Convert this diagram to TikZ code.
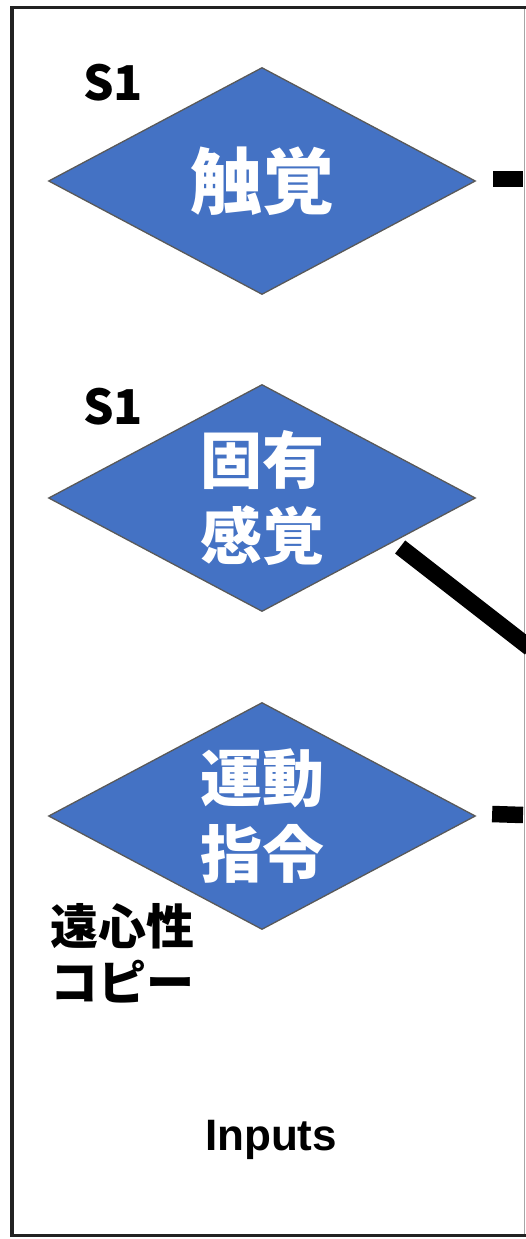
\documentclass[tikz,border=0pt]{standalone}
\usepackage{fontspec}
\setmainfont{Liberation Sans}
\newfontfamily\jp{Noto Sans CJK JP}
\usetikzlibrary{shapes.geometric,calc}
\definecolor{dblue}{HTML}{4472C4}
\definecolor{frm}{HTML}{222222}
\tikzset{
  dia/.style={diamond, aspect=1.88, minimum width=427pt, minimum height=227pt,
    inner sep=0pt, fill=dblue, draw=black!65, line width=1.3pt,
    text=white, align=center},
  bigtxt/.style={font=\jp\bfseries\fontsize{72}{76}\selectfont},
  midtxt/.style={font=\jp\bfseries\fontsize{62}{76}\selectfont},
  lbl/.style={font=\jp\bfseries\fontsize{48}{56}\selectfont, text=black, inner sep=0pt},
  conn/.style={line width=16.5pt, black, line cap=butt},
  frame/.style={draw=frm, line width=3.5pt}
}
\begin{document}
\begin{tikzpicture}[x=1pt,y=-1pt]
\useasboundingbox (0,0) rectangle (526,1239);
% frame
\draw[black!35, line width=1.5pt] (524.5,7.5) -- (524.5,1235.5);
\draw[frame] (526,7.5) -- (12,7.5) -- (12,1235.5) -- (526,1235.5);
% diamonds
\node[dia, bigtxt] (d1) at (262,181) {触覚};
\node[dia, midtxt] (d2) at (262,498) {固有\\感覚};
\node[dia, midtxt] (d3) at (262,816) {運動\\指令};
% labels
\node[lbl, anchor=base] (s1a) at (113,100) {S1};
\node[lbl, anchor=base] (s1b) at (113,424) {S1};
\node[lbl, align=left] (efc) at (122,953) {遠心性\\コピー};
\node[font=\bfseries\fontsize{44}{50}\selectfont, anchor=base, inner sep=0pt] (inp) at (271,1150) {Inputs};
% connector ends at the frame edge
\coordinate (o1) at (523,179);
\coordinate (o2) at (530,648);
\coordinate (o3) at (523,815);
\draw[conn] ($(d1.east)+(17,-2)$) -- (o1);
\draw[conn] ($(d2.east)+(-76,49)$) -- (o2);
\draw[conn] ($(d3.east)+(16,-2)$) -- (o3);
\end{tikzpicture}
\end{document}
